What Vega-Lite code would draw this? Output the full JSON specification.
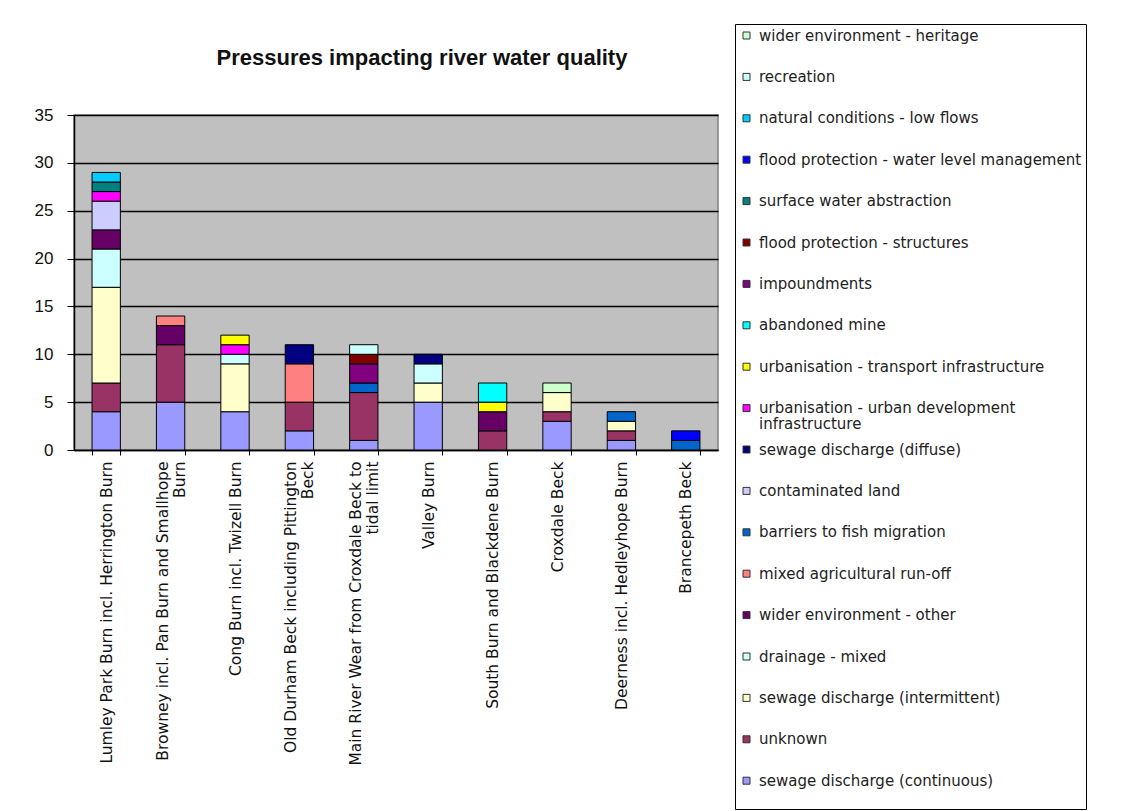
{
  "$schema": "https://vega.github.io/schema/vega-lite/v6.json",
  "width": 644,
  "height": 335,
  "autosize": {"type": "none"},
  "padding": {"left": 74, "top": 115, "right": 404, "bottom": 361},
  "background": "white",
  "title": {
    "text": "Pressures impacting river water quality",
    "font": "Liberation Sans",
    "fontSize": 22,
    "fontWeight": "bold",
    "color": "#111",
    "anchor": "middle",
    "dx": 26,
    "offset": -46
  },
  "datasets": {
    "series": [
      {"pressure": "sewage discharge (continuous)", "series": 1},
      {"pressure": "unknown", "series": 2},
      {"pressure": "sewage discharge (intermittent)", "series": 3},
      {"pressure": "drainage - mixed", "series": 4},
      {"pressure": "wider environment - other", "series": 5},
      {"pressure": "mixed agricultural run-off", "series": 6},
      {"pressure": "barriers to fish migration", "series": 7},
      {"pressure": "contaminated land", "series": 8},
      {"pressure": "sewage discharge (diffuse)", "series": 9},
      {"pressure": "urbanisation - urban development infrastructure", "series": 10},
      {"pressure": "urbanisation - transport infrastructure", "series": 11},
      {"pressure": "abandoned mine", "series": 12},
      {"pressure": "impoundments", "series": 13},
      {"pressure": "flood protection - structures", "series": 14},
      {"pressure": "surface water abstraction", "series": 15},
      {"pressure": "flood protection - water level management", "series": 16},
      {"pressure": "natural conditions - low flows", "series": 17},
      {"pressure": "recreation", "series": 18},
      {"pressure": "wider environment - heritage", "series": 19}
    ]
  },
  "data": {
    "values": [
      {"river": "Lumley Park Burn incl. Herrington Burn", "pressure": "sewage discharge (continuous)", "count": 4},
      {"river": "Lumley Park Burn incl. Herrington Burn", "pressure": "unknown", "count": 3},
      {"river": "Lumley Park Burn incl. Herrington Burn", "pressure": "sewage discharge (intermittent)", "count": 10},
      {"river": "Lumley Park Burn incl. Herrington Burn", "pressure": "drainage - mixed", "count": 4},
      {"river": "Lumley Park Burn incl. Herrington Burn", "pressure": "wider environment - other", "count": 2},
      {"river": "Lumley Park Burn incl. Herrington Burn", "pressure": "contaminated land", "count": 3},
      {"river": "Lumley Park Burn incl. Herrington Burn", "pressure": "urbanisation - urban development infrastructure", "count": 1},
      {"river": "Lumley Park Burn incl. Herrington Burn", "pressure": "surface water abstraction", "count": 1},
      {"river": "Lumley Park Burn incl. Herrington Burn", "pressure": "natural conditions - low flows", "count": 1},

      {"river": "Browney incl. Pan Burn and Smallhope Burn", "pressure": "sewage discharge (continuous)", "count": 5},
      {"river": "Browney incl. Pan Burn and Smallhope Burn", "pressure": "unknown", "count": 6},
      {"river": "Browney incl. Pan Burn and Smallhope Burn", "pressure": "wider environment - other", "count": 2},
      {"river": "Browney incl. Pan Burn and Smallhope Burn", "pressure": "mixed agricultural run-off", "count": 1},

      {"river": "Cong Burn incl. Twizell Burn", "pressure": "sewage discharge (continuous)", "count": 4},
      {"river": "Cong Burn incl. Twizell Burn", "pressure": "sewage discharge (intermittent)", "count": 5},
      {"river": "Cong Burn incl. Twizell Burn", "pressure": "drainage - mixed", "count": 1},
      {"river": "Cong Burn incl. Twizell Burn", "pressure": "urbanisation - urban development infrastructure", "count": 1},
      {"river": "Cong Burn incl. Twizell Burn", "pressure": "urbanisation - transport infrastructure", "count": 1},

      {"river": "Old Durham Beck including Pittington Beck", "pressure": "sewage discharge (continuous)", "count": 2},
      {"river": "Old Durham Beck including Pittington Beck", "pressure": "unknown", "count": 3},
      {"river": "Old Durham Beck including Pittington Beck", "pressure": "mixed agricultural run-off", "count": 4},
      {"river": "Old Durham Beck including Pittington Beck", "pressure": "sewage discharge (diffuse)", "count": 2},

      {"river": "Main River Wear from Croxdale Beck to tidal limit", "pressure": "sewage discharge (continuous)", "count": 1},
      {"river": "Main River Wear from Croxdale Beck to tidal limit", "pressure": "unknown", "count": 5},
      {"river": "Main River Wear from Croxdale Beck to tidal limit", "pressure": "barriers to fish migration", "count": 1},
      {"river": "Main River Wear from Croxdale Beck to tidal limit", "pressure": "impoundments", "count": 2},
      {"river": "Main River Wear from Croxdale Beck to tidal limit", "pressure": "flood protection - structures", "count": 1},
      {"river": "Main River Wear from Croxdale Beck to tidal limit", "pressure": "recreation", "count": 1},

      {"river": "Valley Burn", "pressure": "sewage discharge (continuous)", "count": 5},
      {"river": "Valley Burn", "pressure": "sewage discharge (intermittent)", "count": 2},
      {"river": "Valley Burn", "pressure": "drainage - mixed", "count": 2},
      {"river": "Valley Burn", "pressure": "sewage discharge (diffuse)", "count": 1},

      {"river": "South Burn and Blackdene Burn", "pressure": "unknown", "count": 2},
      {"river": "South Burn and Blackdene Burn", "pressure": "wider environment - other", "count": 2},
      {"river": "South Burn and Blackdene Burn", "pressure": "urbanisation - transport infrastructure", "count": 1},
      {"river": "South Burn and Blackdene Burn", "pressure": "abandoned mine", "count": 2},

      {"river": "Croxdale Beck", "pressure": "sewage discharge (continuous)", "count": 3},
      {"river": "Croxdale Beck", "pressure": "unknown", "count": 1},
      {"river": "Croxdale Beck", "pressure": "sewage discharge (intermittent)", "count": 2},
      {"river": "Croxdale Beck", "pressure": "wider environment - heritage", "count": 1},

      {"river": "Deerness incl. Hedleyhope Burn", "pressure": "sewage discharge (continuous)", "count": 1},
      {"river": "Deerness incl. Hedleyhope Burn", "pressure": "unknown", "count": 1},
      {"river": "Deerness incl. Hedleyhope Burn", "pressure": "sewage discharge (intermittent)", "count": 1},
      {"river": "Deerness incl. Hedleyhope Burn", "pressure": "barriers to fish migration", "count": 1},

      {"river": "Brancepeth Beck", "pressure": "barriers to fish migration", "count": 1},
      {"river": "Brancepeth Beck", "pressure": "flood protection - water level management", "count": 1}
    ]
  },
  "transform": [
    {"lookup": "pressure", "from": {"data": {"name": "series"}, "key": "pressure", "fields": ["series"]}}
  ],
  "mark": {"type": "bar", "stroke": "#000", "strokeWidth": 1},
  "encoding": {
    "x": {
      "field": "river",
      "type": "nominal",
      "sort": [
        "Lumley Park Burn incl. Herrington Burn",
        "Browney incl. Pan Burn and Smallhope Burn",
        "Cong Burn incl. Twizell Burn",
        "Old Durham Beck including Pittington Beck",
        "Main River Wear from Croxdale Beck to tidal limit",
        "Valley Burn",
        "South Burn and Blackdene Burn",
        "Croxdale Beck",
        "Deerness incl. Hedleyhope Burn",
        "Brancepeth Beck"
      ],
      "scale": {"paddingInner": 0.56, "paddingOuter": 0.28},
      "axis": {
        "title": null,
        "labelAngle": -90,
        "labelFont": "DejaVu Sans",
        "labelFontSize": 15.5,
        "labelColor": "#111",
        "labelPadding": 6,
        "labelLimit": 500,
        "labelLineHeight": 17,
        "labelOffset": {"condition": {"test": "length(datum.label) > 38", "value": -8.5}, "value": 0},
        "labelExpr": "length(datum.label) > 38 ? [substring(datum.label, 0, lastindexof(substring(datum.label, 0, 38), ' ')), substring(datum.label, lastindexof(substring(datum.label, 0, 38), ' ') + 1)] : datum.label",
        "tickBand": "extent",
        "tickSize": 5,
        "tickColor": "#000",
        "domainColor": "#000",
        "domainWidth": 1.5,
        "grid": false
      }
    },
    "y": {
      "field": "count",
      "type": "quantitative",
      "stack": "zero",
      "scale": {"domain": [0, 35], "nice": false},
      "axis": {
        "title": null,
        "values": [0, 5, 10, 15, 20, 25, 30, 35],
        "labelFont": "Liberation Sans",
        "labelFontSize": 17,
        "labelColor": "#111",
        "labelPadding": 14,
        "tickSize": 7,
        "tickColor": "#000",
        "domainColor": "#000",
        "domainWidth": 1.5,
        "grid": true,
        "gridColor": "#000",
        "gridWidth": 1.3
      }
    },
    "order": {"field": "series", "type": "quantitative", "sort": "ascending"},
    "color": {
      "field": "pressure",
      "type": "nominal",
      "scale": {
        "domain": [
          "wider environment - heritage",
          "recreation",
          "natural conditions - low flows",
          "flood protection - water level management",
          "surface water abstraction",
          "flood protection - structures",
          "impoundments",
          "abandoned mine",
          "urbanisation - transport infrastructure",
          "urbanisation - urban development infrastructure",
          "sewage discharge (diffuse)",
          "contaminated land",
          "barriers to fish migration",
          "mixed agricultural run-off",
          "wider environment - other",
          "drainage - mixed",
          "sewage discharge (intermittent)",
          "unknown",
          "sewage discharge (continuous)"
        ],
        "range": [
          "#CCFFCC", "#CCFFFF", "#00CCFF", "#0000FF", "#008080", "#800000",
          "#800080", "#00FFFF", "#FFFF00", "#FF00FF", "#000080", "#CCCCFF",
          "#0066CC", "#FF8080", "#660066", "#CCFFFF", "#FFFFCC", "#993366",
          "#9999FF"
        ]
      },
      "legend": {
        "title": null,
        "orient": "none",
        "legendX": 661,
        "legendY": -91,
        "padding": 4,
        "strokeColor": "#000",
        "fillColor": "#fff",
        "symbolType": "square",
        "symbolSize": 49,
        "symbolStrokeColor": "#333",
        "symbolStrokeWidth": 1,
        "labelFont": "DejaVu Sans",
        "labelFontSize": 15,
        "labelColor": "#222",
        "labelOffset": 5,
        "labelLimit": 400,
        "labelExpr": "datum.label == 'urbanisation - urban development infrastructure' ? ['urbanisation - urban development', 'infrastructure'] : [datum.label, '']",
        "rowPadding": 9.4
      }
    }
  },
  "config": {
    "view": {"fill": "#C0C0C0", "stroke": "#808080", "strokeWidth": 1.5},
    "style": {"guide-label": {"lineHeight": 16}}
  }
}
